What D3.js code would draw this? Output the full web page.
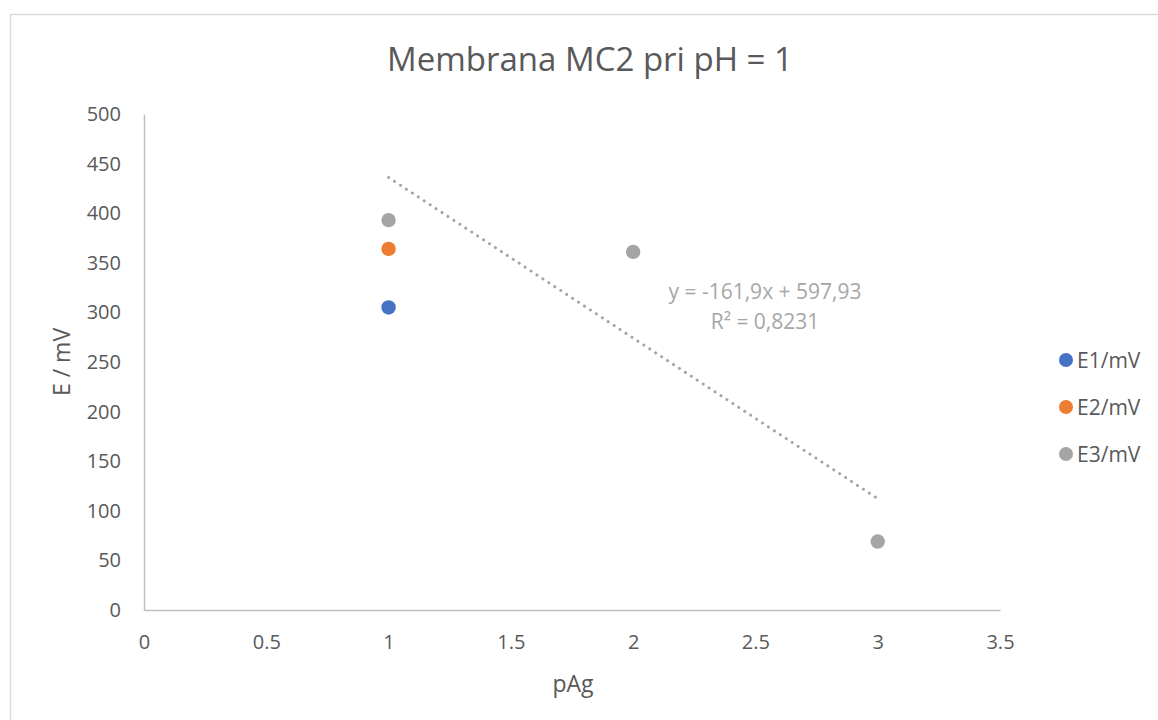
<!DOCTYPE html>
<html>
<head>
<meta charset="utf-8">
<script src="https://cdn.jsdelivr.net/npm/d3@7/dist/d3.min.js"></script>
<style>
html,body{margin:0;padding:0;background:#fff;}
svg{display:block;}
svg text{font-family:"Open Sans","Noto Sans",sans-serif;}
</style>
</head>
<body>
<script>
const seriesNames = ["E1/mV", "E2/mV", "E3/mV"];
const seriesColors = ["#4472c4", "#ed7d31", "#a5a5a5"];
const e1X = [1];
const e1Y = [305];
const e2X = [1];
const e2Y = [364];
const e3X = [1, 2, 3];
const e3Y = [393, 361, 69];
const trendSlope = -161.9;
const trendIntercept = 597.93;
const trendRange = [1, 3];
const trendLabels = ["y = -161,9x + 597,93", "R² = 0,8231"];
const xTicks = [0, 0.5, 1, 1.5, 2, 2.5, 3, 3.5];
const yTicks = [0, 50, 100, 150, 200, 250, 300, 350, 400, 450, 500];
const titleText = "Membrana MC2 pri pH = 1";
const xTitle = "pAg";
const yTitle = "E / mV";

const W = 1158, H = 720;
const svg = d3.select("body").append("svg").attr("width", W).attr("height", H);

// chart border
svg.append("path")
  .attr("d", `M10.5,${H} L10.5,14.5 L${W},14.5`)
  .attr("fill", "none").attr("stroke", "#d9d9d9").attr("stroke-width", 1.5);

const x = d3.scaleLinear().domain([0, 3.5]).range([144, 1000]);
const y = d3.scaleLinear().domain([0, 500]).range([610, 114]);

// axes
const xAxis = d3.axisBottom(x).tickValues(xTicks).tickSize(0).tickPadding(25)
  .tickFormat(d => String(d));
const gx = svg.append("g").attr("transform", `translate(0,${y(0)})`).call(xAxis);
gx.attr("font-family", null).attr("font-size", null);
gx.select(".domain").attr("stroke", "#bfbfbf").attr("stroke-width", 1.5);
gx.selectAll("text").attr("fill", "#595959").attr("font-size", 20);

const yAxis = d3.axisLeft(y).tickValues(yTicks).tickSize(0).tickPadding(23);
const gy = svg.append("g").attr("transform", `translate(${x(0)},0)`).call(yAxis);
gy.attr("font-family", null).attr("font-size", null);
gy.select(".domain").attr("stroke", "#bfbfbf").attr("stroke-width", 1.5);
gy.selectAll("text").attr("fill", "#595959").attr("font-size", 20);

// titles
svg.append("text").attr("x", 590).attr("y", 71).attr("text-anchor", "middle")
  .attr("fill", "#595959").attr("font-size", 33).text(titleText);
svg.append("text").attr("x", 573).attr("y", 692).attr("text-anchor", "middle")
  .attr("fill", "#595959").attr("font-size", 23).text(xTitle);
svg.append("text").attr("transform", "translate(70,362) rotate(-90)").attr("text-anchor", "middle")
  .attr("fill", "#595959").attr("font-size", 23).text(yTitle);

// trendline
const tData = trendRange.map(v => [v, trendSlope * v + trendIntercept]);
svg.append("path")
  .attr("d", d3.line().x(d => x(d[0])).y(d => y(d[1]))(tData))
  .attr("fill", "none").attr("stroke", "#a5a5a5").attr("stroke-width", 3)
  .attr("stroke-dasharray", "0.1 7").attr("stroke-linecap", "round");

// points
const series = [
  {xs: e1X, ys: e1Y},
  {xs: e2X, ys: e2Y},
  {xs: e3X, ys: e3Y}
];
series.forEach((s, i) => {
  svg.append("g").selectAll("circle").data(s.xs.map((v, j) => [v, s.ys[j]])).join("circle")
    .attr("cx", d => x(d[0])).attr("cy", d => y(d[1])).attr("r", 7.2)
    .attr("fill", seriesColors[i]);
});

// trend labels
trendLabels.forEach((t, i) => {
  svg.append("text").attr("x", 765).attr("y", 299 + i * 30).attr("text-anchor", "middle")
    .attr("fill", "#a6a6a6").attr("font-size", 21).text(t);
});

// legend
seriesNames.forEach((n, i) => {
  const ly = 360 + i * 47;
  svg.append("circle").attr("cx", 1066).attr("cy", ly).attr("r", 7).attr("fill", seriesColors[i]);
  svg.append("text").attr("x", 1077).attr("y", ly + 8).attr("fill", "#595959")
    .attr("font-size", 21).text(n);
});
</script>
</body>
</html>
